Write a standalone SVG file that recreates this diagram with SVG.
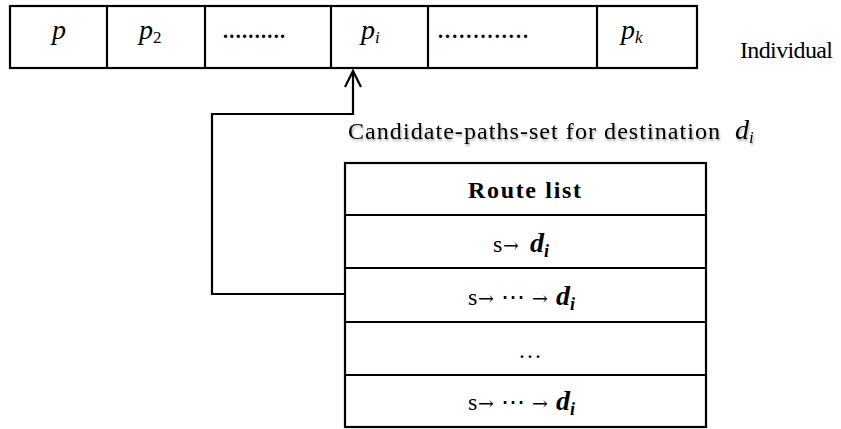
<svg xmlns="http://www.w3.org/2000/svg" width="841" height="429" viewBox="0 0 841 429">
  <defs>
    <filter id="soft" x="-5%" y="-30%" width="110%" height="170%">
      <feGaussianBlur in="SourceAlpha" stdDeviation="1.2"/>
      <feOffset dx="1" dy="2" result="b"/>
      <feComponentTransfer><feFuncA type="linear" slope="0.35"/></feComponentTransfer>
      <feMerge><feMergeNode/><feMergeNode in="SourceGraphic"/></feMerge>
    </filter>
  </defs>
  <style>
    .box { fill: #fff; stroke: #000; stroke-width: 2.2; }
    .ln { stroke: #000; stroke-width: 2.2; fill: none; }
    .serif { font-family: "Liberation Serif", "DejaVu Serif", serif; fill: #000; }
    .math { font-style: italic; font-size: 28px; }
    .sub { font-size: 17px; }
    .txt { font-size: 24px; }
    .row { font-size: 24px; }
    .arr { font-family: "DejaVu Serif", serif; font-size: 19px; }
    .bd { font-style: italic; font-weight: bold; font-size: 28px; }
    .bsub { font-style: italic; font-weight: bold; font-size: 18px; }
    .dots { font-size: 20px; font-weight: bold; }
  </style>

  <!-- individual: a row of paths p .. p_k -->
  <g id="individual" class="serif">
    <rect class="box" x="10" y="6" width="687" height="62"/>
    <line class="ln" x1="107" y1="6" x2="107" y2="68"/>
    <line class="ln" x1="205" y1="6" x2="205" y2="68"/>
    <line class="ln" x1="331" y1="6" x2="331" y2="68"/>
    <line class="ln" x1="428" y1="6" x2="428" y2="68"/>
    <line class="ln" x1="597" y1="6" x2="597" y2="68"/>
    <text class="math" x="52" y="39">p</text>
    <text class="math" x="139" y="39">p<tspan class="sub" font-style="normal" dy="4">2</tspan></text>
    <text class="dots" x="223" y="38" textLength="62">..........</text>
    <text class="math" x="361" y="39">p<tspan class="sub" dy="4">i</tspan></text>
    <text class="dots" x="438" y="38" textLength="90">.............</text>
    <text class="math" x="621" y="39">p<tspan class="sub" dy="4">k</tspan></text>
  </g>
  <text class="serif txt" x="740" y="58" textLength="93">Individual</text>

  <!-- candidate paths label -->
  <g filter="url(#soft)">
    <text class="serif txt" x="348" y="139" textLength="372">Candidate-paths-set for destination</text>
    <text class="serif" x="735" y="139"><tspan class="math" font-size="25">d</tspan><tspan class="sub" font-style="italic" dy="4">i</tspan></text>
  </g>

  <!-- route list table -->
  <g id="route-list" class="serif">
    <rect class="box" x="345" y="163" width="361" height="264"/>
    <line class="ln" x1="345" y1="215" x2="706" y2="215"/>
    <line class="ln" x1="345" y1="268" x2="706" y2="268"/>
    <line class="ln" x1="345" y1="322" x2="706" y2="322"/>
    <line class="ln" x1="345" y1="375" x2="706" y2="375"/>
    <text class="row" x="468" y="198" font-weight="bold" textLength="113">Route list</text>

    <text class="row" x="493" y="252">s<tspan class="arr" x="503">→</tspan><tspan class="bd" x="530">d</tspan><tspan class="bsub" dy="5">i</tspan></text>
    <text class="row" x="468" y="305">s<tspan class="arr" x="478">→</tspan><tspan x="501">⋯</tspan><tspan class="arr" x="532">→</tspan><tspan class="bd" x="556">d</tspan><tspan class="bsub" dy="5">i</tspan></text>
    <text class="row" x="518" y="358">…</text>
    <text class="row" x="468" y="410">s<tspan class="arr" x="478">→</tspan><tspan x="501">⋯</tspan><tspan class="arr" x="532">→</tspan><tspan class="bd" x="556">d</tspan><tspan class="bsub" dy="5">i</tspan></text>
  </g>

  <!-- connector from a route entry to gene p_i -->
  <g id="connectors">
    <path class="ln" d="M345 294 H212 V114 H353 V71"/>
    <path class="ln" d="M345 87 L353 71 L361 87"/>
  </g>
</svg>
